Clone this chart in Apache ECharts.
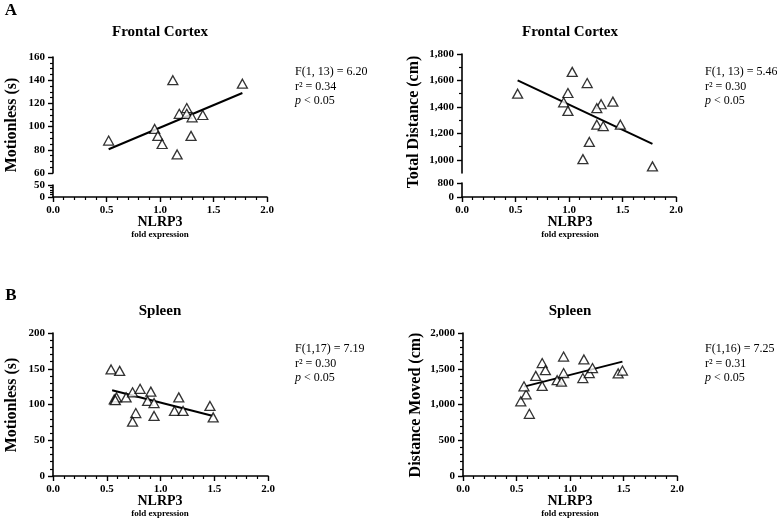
<!DOCTYPE html>
<html><head><meta charset="utf-8">
<script src="https://cdn.jsdelivr.net/npm/echarts@6/dist/echarts.min.js"></script>
<style>html,body{margin:0;padding:0;background:#fff}#c{width:777px;height:532px}</style>
</head><body><div id="c"></div>
<script>
// Panel A left: Frontal Cortex, Motionless (s)
const aMotionX = [0.52, 1.12, 1.77, 1.25, 1.18, 1.25, 1.30, 1.40, 0.95, 0.98, 1.02, 1.29, 1.16];
const aMotionY = [88, 140, 137, 116, 111, 111, 108, 110, 98, 92, 85, 92, 76];
const aMotionFit = [[0.52, 80.5], [1.77, 129]];
// Panel A right: Frontal Cortex, Total Distance (cm)
const aDistX = [0.52, 1.03, 1.17, 0.99, 0.95, 0.99, 1.30, 1.26, 1.41, 1.26, 1.32, 1.48, 1.19, 1.13, 1.78];
const aDistY = [1500, 1665, 1580, 1505, 1435, 1370, 1420, 1390, 1440, 1265, 1255, 1265, 1135, 1005, 950];
const aDistFit = [[0.52, 1600], [1.78, 1120]];
// Panel B left: Spleen, Motionless (s)
const bMotionX = [0.54, 0.62, 0.57, 0.59, 0.58, 0.68, 0.74, 0.81, 0.91, 0.88, 0.94, 0.77, 0.74, 0.94, 1.17, 1.13, 1.21, 1.46, 1.49];
const bMotionY = [149, 147, 107, 110, 106, 110, 117, 122, 118, 105, 102, 88, 76, 84, 110, 91, 91, 98, 82];
const bMotionFit = [[0.55, 120], [1.49, 84]];
// Panel B right: Spleen, Distance Moved (cm)
const bDistX = [0.54, 0.62, 0.59, 0.57, 0.68, 0.74, 0.77, 0.74, 0.88, 0.92, 0.94, 0.94, 1.13, 1.12, 1.18, 1.21, 1.45, 1.49];
const bDistY = [1045, 870, 1140, 1255, 1400, 1580, 1480, 1260, 1340, 1320, 1670, 1440, 1630, 1370, 1440, 1510, 1435, 1475];
const bDistFit = [[0.57, 1250], [1.49, 1600]];
// Tick labels
const xTicks = [0, 0.5, 1.0, 1.5, 2.0];
const aDistMajor = [1000, 1200, 1400, 1600, 1800];
const aDistMinor = [1100, 1300, 1500, 1700];

const FF = '"Liberation Serif","Times New Roman",serif';
const zip = (xs, ys) => xs.map((x, i) => [x, ys[i]]);

const tickLabel = {color: '#000', fontFamily: FF, fontWeight: 'bold', fontSize: 11, margin: 8};
const lineSt = {show: true, onZero: false, lineStyle: {color: '#000', width: 1.6}};
const tickSt = {show: true, length: 5, lineStyle: {color: '#000', width: 1.4}};
const minorSt = (n) => ({show: true, splitNumber: n, length: 3, lineStyle: {color: '#000', width: 1.2}});

function xAx(grid, show) {
  return {
    type: 'value', gridIndex: grid, min: 0, max: 2, interval: 0.5, show: show,
    axisLine: lineSt, axisTick: tickSt, minorTick: minorSt(5), splitLine: {show: false},
    axisLabel: Object.assign({}, tickLabel, {customValues: xTicks, formatter: v => v.toFixed(1)})
  };
}
function yAx(grid, min, max, interval, minorN, extra) {
  return Object.assign({
    type: 'value', gridIndex: grid, min: min, max: max, interval: interval, position: 'left',
    axisLine: lineSt, axisTick: tickSt, minorTick: minorN ? minorSt(minorN) : {show: false},
    splitLine: {show: false},
    axisLabel: Object.assign({}, tickLabel, {formatter: v => v.toLocaleString('en-US')})
  }, extra || {});
}

const grids = [
  {left: 53, top: 57, width: 214, height: 116},   // 0 A-left upper
  {left: 53, top: 185, width: 214, height: 12},   // 1 A-left lower
  {left: 462, top: 54, width: 214, height: 119},  // 2 A-right upper
  {left: 462, top: 183, width: 214, height: 14},  // 3 A-right lower
  {left: 53, top: 333, width: 215, height: 143},  // 4 B-left
  {left: 463, top: 333, width: 214, height: 143}  // 5 B-right
];

const xAxes = [xAx(0, false), xAx(1, true), xAx(2, false), xAx(3, true), xAx(4, true), xAx(5, true)];
const yAxes = [
  yAx(0, 60, 160, 20, 4),
  yAx(1, 0, 50, 50, 5),
  yAx(2, 900, 1800, 100, 0, {
    axisTick: Object.assign({}, tickSt, {customValues: aDistMajor}),
    axisLabel: Object.assign({}, tickLabel, {customValues: aDistMajor, formatter: v => v.toLocaleString('en-US')})
  }),
  yAx(2, 900, 1800, 100, 0, {
    axisLine: {show: false},
    axisTick: {show: true, length: 3, customValues: aDistMinor, lineStyle: {color: '#000', width: 1.2}},
    axisLabel: {show: false}
  }),
  yAx(3, 0, 800, 800, 0),
  yAx(4, 0, 200, 50, 5),
  yAx(5, 0, 2000, 500, 5)
];

function scat(xi, yi, xs, ys) {
  return {type: 'scatter', xAxisIndex: xi, yAxisIndex: yi, data: zip(xs, ys), z: 5,
    symbol: 'triangle', symbolSize: [10, 9],
    itemStyle: {color: '#fff', borderColor: '#000', borderWidth: 1.3}};
}
function fit(xi, yi, d) {
  return {type: 'line', xAxisIndex: xi, yAxisIndex: yi, data: d, symbol: 'none', z: 3,
    lineStyle: {color: '#000', width: 2}};
}

function txt(x, y, text, font, align, rot, rich) {
  const el = {type: 'text', x: x, y: y, style: {text: text, font: font, fill: '#000',
    textAlign: align || 'center', textVerticalAlign: 'middle'}};
  if (rot) el.rotation = rot;
  if (rich) el.style.rich = rich;
  return el;
}
const titleF = 'bold 15px ' + FF;
const axisF = 'bold 16px ' + FF;
const statF = '12px ' + FF;
const ital = {i: {fontStyle: 'italic', fontSize: 12, fontFamily: FF}};
function stats(x, y, lines) {
  return [
    txt(x, y, lines[0], statF, 'left'),
    txt(x, y + 15, lines[1], statF, 'left'),
    txt(x, y + 29, '{i|p} < 0.05', statF, 'left', 0, ital)
  ];
}

const graphics = [
  txt(11, 11, 'A', 'bold 17px ' + FF, 'center'),
  txt(11, 296, 'B', 'bold 17px ' + FF, 'center'),
  txt(160, 32, 'Frontal Cortex', titleF),
  txt(570, 32, 'Frontal Cortex', titleF),
  txt(160, 311, 'Spleen', titleF),
  txt(570, 311, 'Spleen', titleF),
  txt(12, 125, 'Motionless (s)', axisF, 'center', Math.PI / 2),
  txt(414, 122, 'Total Distance (cm)', axisF, 'center', Math.PI / 2),
  txt(12, 405, 'Motionless (s)', axisF, 'center', Math.PI / 2),
  txt(416, 405, 'Distance Moved (cm)', axisF, 'center', Math.PI / 2),
  txt(160, 222, 'NLRP3', 'bold 14px ' + FF),
  txt(160, 235, 'fold expression', 'bold 9px ' + FF),
  txt(570, 222, 'NLRP3', 'bold 14px ' + FF),
  txt(570, 235, 'fold expression', 'bold 9px ' + FF),
  txt(160, 501, 'NLRP3', 'bold 14px ' + FF),
  txt(160, 514, 'fold expression', 'bold 9px ' + FF),
  txt(570, 501, 'NLRP3', 'bold 14px ' + FF),
  txt(570, 514, 'fold expression', 'bold 9px ' + FF)
].concat(
  stats(295, 72, ['F(1, 13) = 6.20', 'r\u00b2 = 0.34']),
  stats(705, 72, ['F(1, 13) = 5.46', 'r\u00b2 = 0.30']),
  stats(295, 349, ['F(1,17) = 7.19', 'r\u00b2 = 0.30']),
  stats(705, 349, ['F(1,16) = 7.25', 'r\u00b2 = 0.31'])
);

const chart = echarts.init(document.getElementById('c'), null, {renderer: 'canvas'});
chart.setOption({
  animation: false,
  backgroundColor: '#fff',
  grid: grids,
  xAxis: xAxes,
  yAxis: yAxes,
  series: [
    fit(0, 0, aMotionFit), scat(0, 0, aMotionX, aMotionY),
    fit(2, 2, aDistFit), scat(2, 2, aDistX, aDistY),
    fit(4, 5, bMotionFit), scat(4, 5, bMotionX, bMotionY),
    fit(5, 6, bDistFit), scat(5, 6, bDistX, bDistY)
  ],
  graphic: graphics
});
</script></body></html>
